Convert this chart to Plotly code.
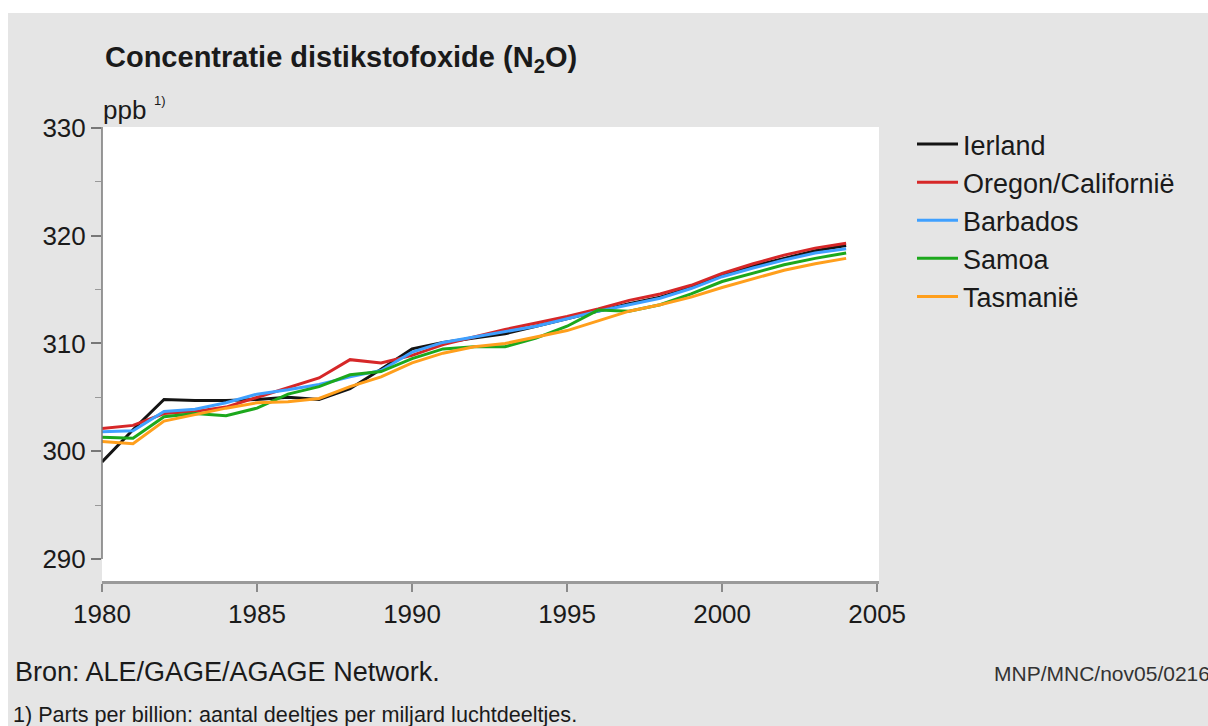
import plotly.graph_objects as go

years = list(range(1980, 2005))

ierland = [299.0, 302.0, 304.8, 304.7, 304.7, 304.8, 305.0, 304.8, 305.8, 307.6,
           309.5, 310.1, 310.5, 310.9, 311.6, 312.3, 313.0, 313.7, 314.3, 315.2,
           316.3, 317.2, 317.9, 318.6, 319.1]
oregon = [302.1, 302.4, 303.5, 303.7, 304.1, 305.0, 305.9, 306.8, 308.5, 308.2,
          308.9, 309.9, 310.6, 311.3, 311.9, 312.5, 313.2, 314.0, 314.6, 315.4,
          316.5, 317.4, 318.2, 318.85, 319.3]
barbados = [301.8, 301.9, 303.7, 303.9, 304.5, 305.3, 305.7, 306.2, 306.9, 307.5,
            309.2, 310.1, 310.6, 311.1, 311.6, 312.3, 313.0, 313.6, 314.2, 315.1,
            316.2, 317.0, 317.75, 318.4, 318.8]
samoa = [301.3, 301.2, 303.2, 303.5, 303.3, 304.0, 305.3, 306.0, 307.1, 307.4,
         308.6, 309.5, 309.7, 309.7, 310.5, 311.6, 313.1, 313.0, 313.6, 314.6,
         315.75, 316.5, 317.3, 317.9, 318.4]
tasmanie = [300.9, 300.7, 302.8, 303.4, 304.0, 304.5, 304.6, 304.9, 306.0, 306.9,
            308.2, 309.1, 309.7, 310.0, 310.6, 311.2, 312.1, 313.0, 313.6, 314.3,
            315.2, 316.0, 316.8, 317.4, 317.9]

series_names = ["Ierland", "Oregon/Californië", "Barbados", "Samoa", "Tasmanië"]
series_values = [ierland, oregon, barbados, samoa, tasmanie]
series_colors = ["#141414", "#d62728", "#3fa0ff", "#1ca81c", "#ff9f1c"]

y_ticks = [290, 300, 310, 320, 330]
x_ticks = [1980, 1985, 1990, 1995, 2000, 2005]

# body margin removed, figure fills the whole 1208x726 window
W, H = 1208, 726
L, R, T, B = 102, 329, 127, 145
PW, PH = W - L - R, H - T - B
Y_RANGE = [287.96, 330.09]

def fx(X):
    return (X - L) / PW

def fy(Y):
    return (H - B - Y) / PH

FONT = "Liberation Sans, Arial, Helvetica, sans-serif"

fig = go.Figure()
for name, vals, col in zip(series_names, series_values, series_colors):
    fig.add_trace(go.Scatter(x=years, y=vals, mode="lines", name=name,
                             line=dict(color=col, width=3)))

fig.update_layout(
    width=W, height=H,
    margin=dict(l=L, r=R, t=T, b=B),
    paper_bgcolor="#e5e5e5",
    plot_bgcolor="#ffffff",
    font=dict(family=FONT, size=26, color="#1a1a1a"),
    showlegend=True,
    legend=dict(x=fx(912), y=fy(120), xanchor="left", yanchor="top",
                bgcolor="rgba(0,0,0,0)", font=dict(size=27, color="#1a1a1a"),
                tracegroupgap=0, itemwidth=41),
    xaxis=dict(range=[1980, 2005.06], tickvals=x_ticks, showgrid=False, zeroline=False,
               showline=True, linecolor="#9a9a9a", linewidth=3,
               ticks="outside", ticklen=8, tickwidth=1.5, tickcolor="#8a8a8a",
               tickfont=dict(size=26, color="#1a1a1a")),
    yaxis=dict(range=Y_RANGE, tickvals=y_ticks, showgrid=False, zeroline=False,
               showline=False, ticks="outside", ticklen=10, tickwidth=1.5,
               tickcolor="#777777", tickfont=dict(size=26, color="#1a1a1a"),
               minor=dict(dtick=5, tick0=0, ticks="outside", ticklen=6,
                          tickcolor="#999999", tickwidth=1.2, showgrid=False)),
    shapes=[
        dict(type="line", xref="paper", yref="y", x0=0, x1=0, y0=290, y1=Y_RANGE[1],
             line=dict(color="#777777", width=1.5)),
        dict(type="rect", xref="paper", yref="paper", x0=fx(0), x1=fx(W), y0=fy(13), y1=fy(0),
             fillcolor="white", line=dict(width=0), layer="above"),
        dict(type="rect", xref="paper", yref="paper", x0=fx(0), x1=fx(8), y0=fy(H), y1=fy(0),
             fillcolor="white", line=dict(width=0), layer="above"),
    ],
    annotations=[
        dict(text="<b>Concentratie distikstofoxide (N<sub>2</sub>O)</b>", xref="paper", yref="paper",
             x=fx(103), y=fy(59), xanchor="left", yanchor="middle", showarrow=False,
             font=dict(size=29, color="#1a1a1a")),
        dict(text="ppb", xref="paper", yref="paper", x=fx(101), y=fy(110),
             xanchor="left", yanchor="middle", showarrow=False, font=dict(size=26)),
        dict(text="1)", xref="paper", yref="paper", x=fx(152), y=fy(100),
             xanchor="left", yanchor="middle", showarrow=False, font=dict(size=13)),
        dict(text="Bron: ALE/GAGE/AGAGE Network.", xref="paper", yref="paper",
             x=fx(13), y=fy(672), xanchor="left", yanchor="middle", showarrow=False,
             font=dict(size=27)),
        dict(text="1) Parts per billion: aantal deeltjes per miljard luchtdeeltjes.", xref="paper",
             yref="paper", x=fx(11), y=fy(714), xanchor="left", yanchor="middle",
             showarrow=False, font=dict(size=21.6)),
        dict(text="MNP/MNC/nov05/0216", xref="paper", yref="paper", x=fx(992), y=fy(673),
             xanchor="left", yanchor="middle", showarrow=False,
             font=dict(size=21, color="#333333")),
    ],
)

fig.write_html(
    "out.html",
    config={"displayModeBar": False},
    post_script="document.body.style.margin='0';"
                "document.documentElement.style.overflow='hidden';"
                "document.body.style.overflow='hidden';",
)
